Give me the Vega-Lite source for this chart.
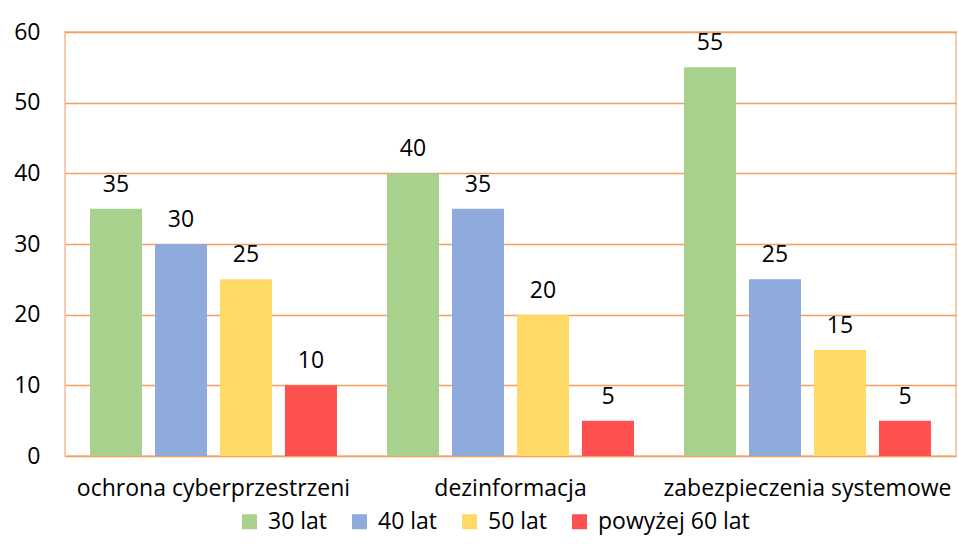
{
  "$schema": "https://vega.github.io/schema/vega-lite/v6.json",
  "width": 891,
  "height": 424,
  "autosize": {"type": "none"},
  "padding": {"left": 65, "top": 32, "right": 2, "bottom": 97},
  "background": "white",
  "config": {
    "font": "Open Sans",
    "view": {"stroke": "#f8cbad", "strokeWidth": 2},
    "axis": {"labelFont": "Open Sans", "labelFontSize": 23, "labelColor": "#000000", "labelLimit": 0}
  },
  "data": {
    "values": [
      {"kategoria": "ochrona cyberprzestrzeni", "grupa": "30 lat", "wartosc": 35},
      {"kategoria": "ochrona cyberprzestrzeni", "grupa": "40 lat", "wartosc": 30},
      {"kategoria": "ochrona cyberprzestrzeni", "grupa": "50 lat", "wartosc": 25},
      {"kategoria": "ochrona cyberprzestrzeni", "grupa": "powyżej 60 lat", "wartosc": 10},
      {"kategoria": "dezinformacja", "grupa": "30 lat", "wartosc": 40},
      {"kategoria": "dezinformacja", "grupa": "40 lat", "wartosc": 35},
      {"kategoria": "dezinformacja", "grupa": "50 lat", "wartosc": 20},
      {"kategoria": "dezinformacja", "grupa": "powyżej 60 lat", "wartosc": 5},
      {"kategoria": "zabezpieczenia systemowe", "grupa": "30 lat", "wartosc": 55},
      {"kategoria": "zabezpieczenia systemowe", "grupa": "40 lat", "wartosc": 25},
      {"kategoria": "zabezpieczenia systemowe", "grupa": "50 lat", "wartosc": 15},
      {"kategoria": "zabezpieczenia systemowe", "grupa": "powyżej 60 lat", "wartosc": 5}
    ]
  },
  "encoding": {
    "x": {
      "field": "kategoria",
      "type": "nominal",
      "sort": null,
      "scale": {"paddingInner": 0, "paddingOuter": 0},
      "axis": {"title": null, "labelAngle": 0, "ticks": false, "domain": false, "labelPadding": 21, "labelBaseline": "top"}
    },
    "xOffset": {
      "field": "grupa",
      "type": "nominal",
      "sort": null,
      "scale": {"paddingInner": 0.2, "paddingOuter": 0.385}
    }
  },
  "layer": [
    {
      "mark": {"type": "bar"},
      "encoding": {
        "y": {
          "field": "wartosc",
          "type": "quantitative",
          "scale": {"domain": [0, 60]},
          "axis": {
            "title": null,
            "values": [0, 10, 20, 30, 40, 50, 60],
            "ticks": false,
            "domain": false,
            "labelPadding": 25,
            "grid": true,
            "gridColor": "#f2a062",
            "gridWidth": 1.5
          }
        },
        "color": {
          "field": "grupa",
          "type": "nominal",
          "sort": null,
          "scale": {
            "domain": ["30 lat", "40 lat", "50 lat", "powyżej 60 lat"],
            "range": ["#a9d18e", "#8faadc", "#ffd966", "#ff5050"]
          },
          "legend": {
            "title": null,
            "orient": "none",
            "direction": "horizontal",
            "legendX": 173,
            "legendY": 478,
            "symbolType": "square",
            "symbolSize": 225,
            "symbolStrokeWidth": 0,
            "labelFontSize": 23,
            "labelFont": "Open Sans",
            "labelColor": "#000000",
            "labelOffset": 7,
            "labelLimit": 0,
            "columnPadding": 20
          }
        }
      }
    },
    {
      "mark": {"type": "text", "baseline": "alphabetic", "dy": -17, "fontSize": 23, "font": "Open Sans", "color": "#000000"},
      "encoding": {
        "y": {"field": "wartosc", "type": "quantitative"},
        "text": {"field": "wartosc", "type": "quantitative"}
      }
    }
  ]
}
